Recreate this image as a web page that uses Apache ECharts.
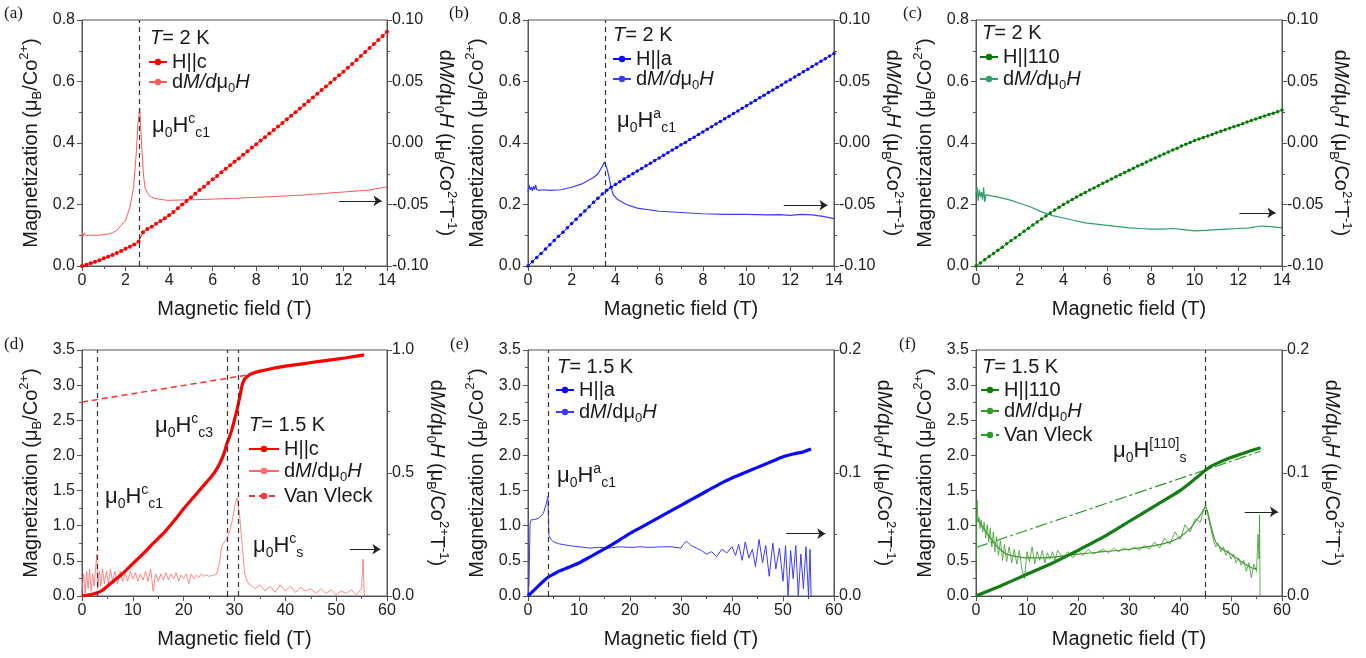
<!DOCTYPE html>
<html>
<head>
<meta charset="utf-8">
<title>Magnetization curves</title>
<script src="https://cdn.jsdelivr.net/npm/echarts/dist/echarts.min.js"></script>
<style>
  html, body { margin: 0; padding: 0; background: #fff; }
  #chart { width: 1366px; height: 658px; }
</style>
</head>
<body>
<div id="chart"></div>
<script>
// ---- field grid for the 14 T panels (a)-(c)
const field14 = [0,0.2,0.4,0.6,0.8,1,1.2,1.4,1.6,1.8,2,2.2,2.4,2.6,2.8,3,3.2,3.4,3.6,3.8,
  4,4.2,4.4,4.6,4.8,5,5.2,5.4,5.6,5.8,6,6.2,6.4,6.6,6.8,7,7.2,7.4,7.6,7.8,
  8,8.2,8.4,8.6,8.8,9,9.2,9.4,9.6,9.8,10,10.2,10.4,10.6,10.8,11,11.2,11.4,11.6,11.8,
  12,12.2,12.4,12.6,12.8,13,13.2,13.4,13.6,13.8,14];

// (a) H||c, 2 K
const aM = [0.000,0.004,0.009,0.014,0.019,0.025,0.030,0.036,0.042,0.049,
  0.056,0.063,0.070,0.080,0.110,0.120,0.128,0.137,0.146,0.155,
  0.165,0.176,0.188,0.200,0.211,0.223,0.235,0.247,0.258,0.270,
  0.282,0.293,0.305,0.316,0.328,0.339,0.350,0.362,0.373,0.385,
  0.396,0.408,0.419,0.431,0.442,0.454,0.465,0.477,0.489,0.500,
  0.512,0.524,0.536,0.548,0.560,0.572,0.584,0.596,0.608,0.620,
  0.632,0.645,0.657,0.670,0.683,0.696,0.709,0.722,0.735,0.748,0.762];
const aDx = [0,0.05,0.1,0.15,0.2,0.3,0.5,0.8,1.0,1.2,1.4,1.6,1.8,2.0,2.2,2.37,2.5,2.57,2.65,2.75,
  2.83,2.9,3.06,3.3,3.9,5.4,7,8.5,10,11.5,13.1,14];
const aDy = [-0.072,-0.076,-0.073,-0.075,-0.074,-0.075,-0.075,-0.075,-0.0745,-0.074,-0.073,-0.071,-0.067,-0.063,
  -0.052,-0.036,-0.006,0.016,0.028,-0.006,-0.0275,-0.037,-0.0425,-0.045,-0.0466,-0.046,-0.045,-0.0438,
  -0.0425,-0.0405,-0.0384,-0.0357];

// (b) H||a, 2 K
const bM = [0.000,0.014,0.028,0.041,0.055,0.069,0.083,0.097,0.110,0.124,
  0.138,0.152,0.166,0.179,0.193,0.207,0.220,0.234,0.246,0.256,
  0.265,0.274,0.283,0.292,0.300,0.309,0.317,0.326,0.334,0.343,
  0.351,0.360,0.368,0.377,0.385,0.394,0.402,0.411,0.419,0.428,
  0.436,0.445,0.453,0.462,0.470,0.479,0.487,0.496,0.504,0.513,
  0.521,0.530,0.538,0.547,0.555,0.564,0.572,0.581,0.589,0.598,
  0.606,0.615,0.623,0.632,0.640,0.649,0.657,0.666,0.674,0.683,0.691];
const bDx = [0,0.05,0.1,0.15,0.2,0.25,0.3,0.35,0.4,0.5,0.7,1.0,1.5,2.0,2.5,3.0,3.2,3.4,3.5,3.6,3.7,3.8,3.9,
  4.1,4.5,5,6,7,8,9,10,11,11.5,12,12.5,13,13.5,14];
const bDy = [-0.040,-0.034,-0.038,-0.036,-0.039,-0.035,-0.038,-0.034,-0.038,-0.0385,-0.038,-0.0385,-0.038,
  -0.036,-0.033,-0.028,-0.025,-0.019,-0.0155,-0.020,-0.027,-0.036,-0.042,-0.046,-0.050,-0.053,-0.0555,
  -0.0565,-0.0575,-0.058,-0.058,-0.0585,-0.0583,-0.0588,-0.058,-0.0585,-0.0597,-0.0615];

// (c) H||110, 2 K
const cM = [0.000,0.010,0.020,0.031,0.041,0.051,0.061,0.072,0.082,0.092,
  0.102,0.113,0.123,0.133,0.143,0.153,0.163,0.172,0.182,0.191,
  0.200,0.208,0.216,0.224,0.232,0.239,0.247,0.254,0.261,0.269,
  0.276,0.283,0.290,0.297,0.304,0.311,0.318,0.325,0.331,0.338,
  0.345,0.351,0.358,0.364,0.371,0.377,0.383,0.390,0.396,0.402,
  0.408,0.413,0.418,0.423,0.428,0.433,0.438,0.443,0.448,0.453,
  0.458,0.463,0.468,0.473,0.478,0.483,0.488,0.493,0.497,0.502,0.507];
const cDx = [0,0.05,0.1,0.15,0.2,0.25,0.3,0.35,0.4,0.45,0.5,0.7,1.0,1.5,2,2.5,3,3.5,4,4.5,5,5.5,6,6.5,7,7.5,
  8,8.5,9,9.5,10,10.5,11,11.5,12,12.5,13,13.5,14];
const cDy = [-0.042,-0.036,-0.047,-0.038,-0.044,-0.040,-0.046,-0.036,-0.048,-0.042,-0.043,-0.043,-0.044,-0.046,
  -0.049,-0.052,-0.056,-0.059,-0.061,-0.063,-0.065,-0.066,-0.067,-0.068,-0.069,-0.0695,-0.070,-0.070,
  -0.0695,-0.0705,-0.0715,-0.071,-0.0705,-0.070,-0.0695,-0.069,-0.0675,-0.068,-0.069];

// (d) H||c, 1.5 K, pulsed field
const dMx = [0,1,2,3,4,5,6,7,8,9,10,12,14,16,18,20,22,24,25,26,27,28,28.5,29,29.5,30,30.5,31,31.5,32,32.5,
  33,34,35,37,40,43,46,49,52,55.5];
const dMy = [0,0.01,0.025,0.045,0.08,0.14,0.20,0.26,0.32,0.39,0.46,0.60,0.75,0.89,1.06,1.24,1.41,1.58,1.66,
  1.75,1.87,2.04,2.17,2.26,2.37,2.51,2.65,2.82,3.00,3.09,3.12,3.15,3.18,3.20,3.23,3.27,3.30,3.33,3.36,3.39,3.43];
const dVx = [0, 33];
const dVy = [2.76, 3.15];
const dDx = [0,0.3,0.6,0.9,1.2,1.5,1.8,2.1,2.4,2.7,2.9,3.1,3.4,3.7,4.0,4.4,4.8,5.2,5.6,6.0,6.5,7,7.5,8,8.5,
  9,9.5,10,10.5,11,11.5,12,12.5,13,13.5,14,14.5,15,15.5,16,16.5,17,17.5,18,18.5,19,19.5,20,20.5,21,21.5,
  22,22.5,23,23.5,24,24.5,25,25.5,26,26.5,27,27.5,28,28.5,29,29.5,30,30.5,31,31.5,32,32.5,33,33.5,34,35,
  36,37,38,39,40,41,42,43,44,45,46,47,48,49,50,51,52,53,54,55,55.3,55.5,55.6];
const dDy = [0.02,0.09,0.01,0.10,0.03,0.11,0.02,0.09,0.04,0.12,0.17,0.03,0.10,0.04,0.11,0.05,0.10,0.05,0.11,
  0.06,0.10,0.05,0.10,0.06,0.09,0.06,0.10,0.07,0.095,0.06,0.09,0.065,0.10,0.06,0.11,0.02,0.09,0.06,0.09,
  0.065,0.095,0.065,0.09,0.07,0.095,0.06,0.085,0.07,0.09,0.05,0.09,0.07,0.085,0.075,0.09,0.08,0.085,0.08,
  0.083,0.085,0.09,0.13,0.20,0.22,0.235,0.26,0.30,0.36,0.40,0.33,0.21,0.09,0.06,0.045,0.04,0.03,0.045,
  0.02,0.04,0.015,0.045,0.02,0.04,0.015,0.035,0.02,0.03,0.01,0.03,0.01,0.025,0.005,0.02,0.01,0.025,0.005,
  0.03,0.15,0.02,0.0];

// (e) H||a, 1.5 K
const eMx = [0,1,2,3,4,5,6,8,10,12,15,18,20,22,25,28,30,32,35,38,40,42,45,48,50,52,54,55.5];
const eMy = [0,0.07,0.14,0.21,0.27,0.31,0.35,0.41,0.47,0.55,0.67,0.80,0.89,0.97,1.09,1.21,1.29,1.37,1.49,
  1.61,1.68,1.74,1.83,1.92,1.98,2.02,2.05,2.09];
const eDx = [0,0.2,0.4,0.6,1,2,3,3.5,3.9,4.1,4.5,5,6,8,10,12,14,16,18,20,22,24,26,28,30,30.5,31,31.5,32,33,
  34,35,36,37,38,39,40,40.7,41.3,42,42.6,43.3,44,44.6,45.3,46,46.6,47.3,48,48.6,49.3,50,50.5,51,51.5,52,
  52.5,53,53.5,54,54.5,55,55.3,55.5];
const eDy = [0,0.010,0.058,0.062,0.062,0.063,0.067,0.074,0.081,0.049,0.046,0.044,0.0425,0.041,0.040,0.039,
  0.0395,0.039,0.040,0.0395,0.040,0.0395,0.040,0.040,0.039,0.042,0.0445,0.043,0.041,0.039,0.037,0.034,
  0.036,0.032,0.038,0.035,0.040,0.033,0.042,0.029,0.044,0.031,0.038,0.024,0.046,0.027,0.041,0.016,0.043,
  0.022,0.039,0.012,0.041,0.0,0.037,0.014,0.041,0.0,0.034,0.006,0.040,0.0,0.038,0.0];

// (f) H||110, 1.5 K
const fMx = [0,2,5,10,15,20,25,30,35,40,43,45,46,47,50,52,54,55.8];
const fMy = [0,0.06,0.15,0.31,0.47,0.65,0.84,1.06,1.28,1.50,1.67,1.79,1.84,1.88,1.97,2.02,2.07,2.11];
const fVx = [0, 55.8];
const fVy = [0.69, 2.06];
const fDx = [0,0.2,0.4,0.6,0.8,1.0,1.3,1.6,1.9,2.2,2.5,2.8,3.1,3.4,3.7,4.0,4.4,4.8,5.2,5.6,6.0,6.5,7.0,7.5,
  8.0,8.5,9.0,9.5,10,10.5,11,11.5,12,12.5,13,13.5,14,14.5,15,15.5,16,17,18,19,20,21,22,23,24,25,26,27,28,
  29,30,31,32,33,34,35,36,37,38,39,40,41,42,43,44,44.5,45,45.5,46,46.5,47,47.5,48,48.5,49,49.5,50,50.5,51,
  51.5,52,52.5,53,53.5,54,54.5,55,55.3,55.5,55.6,55.7];
const fDy = [0.02,0.078,0.060,0.064,0.055,0.062,0.052,0.060,0.047,0.058,0.044,0.055,0.040,0.052,0.036,0.048,
  0.033,0.045,0.029,0.042,0.028,0.040,0.027,0.038,0.026,0.037,0.022,0.014,0.036,0.028,0.040,0.026,0.036,
  0.029,0.037,0.027,0.035,0.030,0.036,0.029,0.037,0.031,0.036,0.031,0.037,0.033,0.038,0.034,0.036,0.038,
  0.035,0.039,0.036,0.039,0.037,0.040,0.037,0.041,0.038,0.044,0.039,0.047,0.042,0.052,0.046,0.058,0.052,
  0.063,0.060,0.068,0.074,0.065,0.056,0.046,0.040,0.043,0.036,0.040,0.033,0.037,0.030,0.034,0.027,0.031,
  0.025,0.029,0.020,0.027,0.015,0.026,0.020,0.050,0.030,0.066,0.0];
const fSx = [0.3,1,2,3,4,5,6,8,10,13,16,20,25,30,35,38,40,42,44,45,46,47,48,50,52,54,55];
const fSy = [0.062,0.058,0.052,0.046,0.041,0.037,0.034,0.032,0.031,0.031,0.032,0.034,0.036,0.038,0.041,0.044,
  0.048,0.055,0.066,0.072,0.058,0.044,0.039,0.034,0.028,0.023,0.022];

// critical fields (dashed verticals)
const aCrit = [2.65];
const bCrit = [3.55];
const dCrit = [2.95, 28.5, 30.7];
const eCrit = [4.0];
const fCrit = [45];

// arrows pointing at the right axis: [from, to, level]
const aArrow = [11.8, 13.75, -0.047];
const bArrow = [11.7, 13.7, -0.0506];
const cArrow = [12.05, 13.7, -0.0568];
const dArrow = [52.7, 58.7, 0.19];
const eArrow = [50.6, 58.3, 0.0507];
const fArrow = [52.7, 59.2, 0.0684];

const FONT = '"Liberation Sans", Arial, sans-serif';
const INK = '#1a1a1a';
const AXIS = '#555';

function zip(xs, ys) { return xs.map((x, i) => [x, ys[i]]); }

function rich(size) {
  const small = Math.round(size * 0.64);
  const base = { fontFamily: FONT, color: INK, fontWeight: 'normal' };
  return {
    n: Object.assign({ fontSize: size, lineHeight: size + 6 }, base),
    i: Object.assign({ fontSize: size, lineHeight: size + 6, fontStyle: 'italic' }, base),
    s: Object.assign({ fontSize: small, lineHeight: small + 4, verticalAlign: 'bottom' }, base),
    p: Object.assign({ fontSize: small, lineHeight: small + 4, verticalAlign: 'top' }, base)
  };
}

function vLines(vals) {
  return {
    silent: true, symbol: 'none', label: { show: false },
    lineStyle: { color: '#333', type: [5, 4], width: 1.2 },
    data: vals.map(v => ({ xAxis: v }))
  };
}

function arrow(a) {
  return {
    silent: true, symbol: ['none', 'arrow'], symbolSize: 8, label: { show: false },
    lineStyle: { color: '#222', type: 'solid', width: 1 },
    itemStyle: { color: '#222' },
    data: [[{ coord: [a[0], a[2]] }, { coord: [a[1], a[2]] }]]
  };
}

const gridBoxes = [
  [82, 20, 305], [528, 20, 306], [976, 20, 306],
  [82, 350, 305], [528, 350, 306], [976, 350, 306]
];
const grids = gridBoxes.map(g => ({
  left: g[0], top: g[1], width: g[2], height: 246,
  show: true, borderColor: AXIS, borderWidth: 1, backgroundColor: 'transparent'
}));

const tickStyle = { lineStyle: { color: AXIS, width: 1 } };
const xAxes = gridBoxes.map((g, i) => ({
  gridIndex: i, type: 'value', min: 0, max: i < 3 ? 14 : 60, interval: i < 3 ? 2 : 10,
  axisLine: { show: true, lineStyle: { color: AXIS, width: 1 } },
  axisTick: Object.assign({ length: 5 }, tickStyle),
  minorTick: Object.assign({ show: true, splitNumber: 2, length: 3 }, tickStyle),
  splitLine: { show: false },
  axisLabel: { fontSize: 16, fontFamily: FONT, color: '#222', margin: 7 },
  name: 'Magnetic field (T)', nameLocation: 'middle', nameGap: 33,
  nameTextStyle: { fontSize: 20, fontFamily: FONT, color: INK }
}));

const leftName = '{n|Magnetization (μ}{s|B}{n|/Co}{p|2+}{n|)}';
const rightName = '{n|d}{i|M/d}{n|μ}{s|0}{i|H}{n| (μ}{s|B}{n|/Co}{p|2+}{n|T}{p|-1}{n|)}';
const leftRange = [[0, 0.8, 0.2], [0, 3.5, 0.5]];
const rightRange = [[-0.1, 0.1, 0.05, 2], [0, 1.0, 0.5, 1], [0, 0.2, 0.1, 1], [0, 0.2, 0.1, 1]];

const yAxes = [];
gridBoxes.forEach((g, i) => {
  const l = leftRange[i < 3 ? 0 : 1];
  const r = rightRange[i < 3 ? 0 : i - 2];
  const common = {
    gridIndex: i, type: 'value',
    axisLine: { show: true, lineStyle: { color: AXIS, width: 1 } },
    axisTick: Object.assign({ length: 5 }, tickStyle),
    minorTick: Object.assign({ show: true, splitNumber: 2, length: 3 }, tickStyle),
    splitLine: { show: false },
    nameLocation: 'middle'
  };
  yAxes.push(Object.assign({}, common, {
    position: 'left', min: l[0], max: l[1], interval: l[2],
    axisLabel: { fontSize: 16, fontFamily: FONT, color: '#222', margin: 7, formatter: v => v.toFixed(1) },
    name: leftName, nameGap: 38, nameRotate: 90,
    nameTextStyle: { rich: rich(20) }
  }));
  yAxes.push(Object.assign({}, common, {
    position: 'right', min: r[0], max: r[1], interval: r[2],
    axisLabel: { fontSize: 16, fontFamily: FONT, color: '#222', margin: 5, formatter: v => v.toFixed(r[3]) },
    name: rightName, nameGap: 37, nameRotate: -90,
    nameTextStyle: { rich: rich(20) }
  }));
});

const RED = '#ff0000', RED_D = '#ff5a5a';
const BLUE = '#0a0aff', BLUE_D = '#3b3bff';
const GREEN = '#007a00', GREEN_D = '#2f9e6a', GREEN_F = '#147d14', GREEN_FD = '#3a9a2a';

function mSeries(name, idx, data, color, opts) {
  return Object.assign({
    name: name, type: 'line', xAxisIndex: idx, yAxisIndex: idx * 2, data: data,
    symbol: 'circle', symbolSize: 4, showAllSymbol: true,
    lineStyle: { color: color, width: 1 }, itemStyle: { color: color },
    z: 4, animation: false
  }, opts || {});
}
function dSeries(name, idx, data, color, width, opts) {
  return Object.assign({
    name: name, type: 'line', xAxisIndex: idx, yAxisIndex: idx * 2 + 1, data: data,
    symbol: 'none', lineStyle: { color: color, width: width }, itemStyle: { color: color },
    z: 3, animation: false
  }, opts || {});
}
const thick = color => ({
  showSymbol: false, smooth: 0.2,
  lineStyle: { color: color, width: 3.2 }
});

const series = [
  dSeries('aD', 0, zip(aDx, aDy), RED_D, 1, { markLine: arrow(aArrow) }),
  mSeries('aM', 0, zip(field14, aM), RED, { markLine: vLines(aCrit) }),
  dSeries('bD', 1, zip(bDx, bDy), BLUE_D, 1.2, { markLine: arrow(bArrow) }),
  mSeries('bM', 1, zip(field14, bM), BLUE, { markLine: vLines(bCrit), symbolSize: 3.5 }),
  dSeries('cD', 2, zip(cDx, cDy), GREEN_D, 1.2, { markLine: arrow(cArrow) }),
  mSeries('cM', 2, zip(field14, cM), GREEN, { symbolSize: 3.5 }),
  dSeries('dD', 3, zip(dDx, dDy), '#ff6a6a', 0.8, { markLine: arrow(dArrow) }),
  dSeries('dV', 3, zip(dVx, dVy), '#ff3030', 1.5, { yAxisIndex: 6, lineStyle: { color: '#ff3030', width: 1.5, type: [6, 4] } }),
  mSeries('dM', 3, zip(dMx, dMy), RED, Object.assign(thick(RED), { markLine: vLines(dCrit) })),
  dSeries('eD', 4, zip(eDx, eDy), BLUE_D, 1, { markLine: arrow(eArrow) }),
  mSeries('eM', 4, zip(eMx, eMy), BLUE, Object.assign(thick(BLUE), { markLine: vLines(eCrit) })),
  dSeries('fD', 5, zip(fDx, fDy), GREEN_FD, 0.8, { markLine: arrow(fArrow) }),
  dSeries('fS', 5, zip(fSx, fSy), GREEN_FD, 1.2, { smooth: 0.3 }),
  dSeries('fV', 5, zip(fVx, fVy), '#2a9a2a', 1.2, { yAxisIndex: 10, lineStyle: { color: '#2a9a2a', width: 1.2, type: [12, 3, 3, 3] } }),
  mSeries('fM', 5, zip(fMx, fMy), GREEN_F, Object.assign(thick(GREEN_F), { markLine: vLines(fCrit) }))
];

const legendText = {
  aM: '{n|H||c}', aD: '{n|d}{i|M/d}{n|μ}{s|0}{i|H}',
  bM: '{n|H||a}', bD: '{n|d}{i|M/d}{n|μ}{s|0}{i|H}',
  cM: '{n|H||110}', cD: '{n|d}{i|M/d}{n|μ}{s|0}{i|H}',
  dM: '{n|H||c}', dD: '{n|d}{i|M}{n|/dμ}{s|0}{i|H}', dV: '{n|Van Vleck}',
  eM: '{n|H||a}', eD: '{n|d}{i|M}{n|/dμ}{s|0}{i|H}',
  fM: '{n|H||110}', fD: '{n|d}{i|M}{n|/dμ}{s|0}{i|H}', fV: '{n|Van Vleck}'
};
function legendAt(left, top, names, width, gap) {
  return {
    left: left, top: top, orient: 'vertical', padding: 0, itemGap: gap,
    itemWidth: width, itemHeight: 8, selectedMode: false,
    data: names, formatter: name => legendText[name],
    textStyle: { rich: rich(20) }
  };
}
const legends = [
  legendAt(148, 52, ['aM', 'aD'], 18, 0),
  legendAt(612, 49, ['bM', 'bD'], 18, 0),
  legendAt(979, 47, ['cM', 'cD'], 18, 2),
  legendAt(248, 439, ['dM', 'dD', 'dV'], 30, 2),
  legendAt(555, 380, ['eM', 'eD'], 18, 2),
  legendAt(980, 380, ['fM', 'fD', 'fV'], 18, 1)
];

function label(text, left, top, size) {
  return {
    text: text, left: left, top: top, padding: 0,
    textStyle: { fontWeight: 'normal', rich: rich(size || 20) }
  };
}
function panelTag(text, left, top) {
  return {
    text: text, left: left, top: top, padding: 0,
    textStyle: { fontFamily: '"Liberation Serif", "Times New Roman", serif', fontSize: 17, fontWeight: 'normal', color: INK }
  };
}
const titles = [
  panelTag('(a)', 4, 5), panelTag('(b)', 449, 5), panelTag('(c)', 903, 5),
  panelTag('(d)', 4, 336), panelTag('(e)', 450, 336), panelTag('(f)', 899, 336),
  label('{i|T}{n|= 2 K}', 150, 25), label('{i|T}{n|= 2 K}', 613, 22), label('{i|T}{n|= 2 K}', 982, 20),
  label('{i|T}{n|= 1.5 K}', 249, 412), label('{i|T}{n|= 1.5 K}', 557, 354), label('{i|T}{n|= 1.5 K}', 982, 354),
  label('{n|μ}{s|0}{n|H}{p|c}{s|c1}', 152, 112, 22),
  label('{n|μ}{s|0}{n|H}{p|a}{s|c1}', 617, 107, 22),
  label('{n|μ}{s|0}{n|H}{p|c}{s|c3}', 155, 412, 22),
  label('{n|μ}{s|0}{n|H}{p|c}{s|c1}', 105, 483, 22),
  label('{n|μ}{s|0}{n|H}{p|c}{s|s}', 253, 532, 22),
  label('{n|μ}{s|0}{n|H}{p|a}{s|c1}', 557, 462, 22),
  label('{n|μ}{s|0}{n|H}{p|[110]}{s|s}', 1113, 437, 22)
];

const chart = echarts.init(document.getElementById('chart'), null, { renderer: 'canvas' });
chart.setOption({
  backgroundColor: '#ffffff',
  animation: false,
  title: titles,
  legend: legends,
  grid: grids,
  xAxis: xAxes,
  yAxis: yAxes,
  series: series
});
</script>
</body>
</html>
